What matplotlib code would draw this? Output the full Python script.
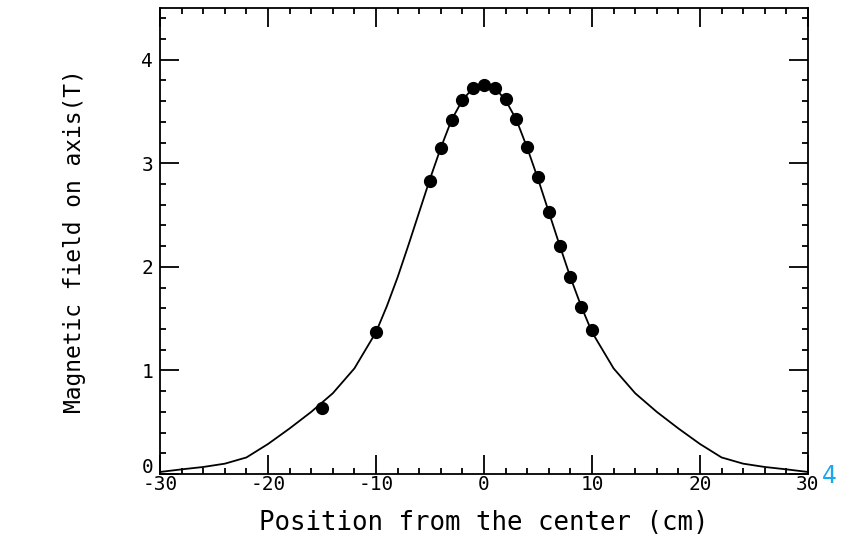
import matplotlib
matplotlib.use("Agg")
import matplotlib.pyplot as plt
import matplotlib.transforms as mtransforms
from matplotlib.ticker import MultipleLocator

plt.rcParams["axes.unicode_minus"] = False

# measured points (cm, T)
pos_pts = [-15, -10, -5, -4, -3, -2, -1, 0, 1, 2, 3, 4, 5, 6, 7, 8, 9, 10]
field_pts = [0.64, 1.37, 2.83, 3.15, 3.42, 3.61, 3.73, 3.76, 3.73, 3.62, 3.43,
             3.16, 2.87, 2.53, 2.20, 1.90, 1.61, 1.39]

# calculated curve
pos_curve = [-30, -28, -26, -24, -22, -20, -18, -16, -14, -12, -10, -9, -8, -7, -6,
             -5, -4, -3, -2, -1, 0, 1, 2, 3, 4, 5, 6, 7, 8, 9, 10, 12, 14, 16,
             18, 20, 22, 24, 26, 28, 30]
field_curve = [0.02, 0.045, 0.068, 0.10, 0.16, 0.29, 0.44, 0.60, 0.78, 1.02, 1.37,
               1.62, 1.90, 2.21, 2.53, 2.85, 3.15, 3.42, 3.61, 3.73, 3.77, 3.73,
               3.61, 3.42, 3.15, 2.85, 2.53, 2.21, 1.90, 1.62, 1.37, 1.02, 0.78,
               0.60, 0.44, 0.29, 0.16, 0.10, 0.068, 0.045, 0.02]

mono = ["DejaVu Sans Mono"]

fig = plt.figure(figsize=(8.54, 5.41), dpi=100)
ax = fig.add_axes([0.1874, 0.1238, 0.7587, 0.8614])

ax.plot(pos_curve, field_curve, color="black", lw=1.3)
ax.plot(pos_pts, field_pts, "o", color="black", ms=8.5)

ax.set_xlim(-30, 30)
ax.set_ylim(0, 4.5)
ax.xaxis.set_major_locator(MultipleLocator(10))
ax.xaxis.set_minor_locator(MultipleLocator(2))
ax.yaxis.set_major_locator(MultipleLocator(1))
ax.yaxis.set_minor_locator(MultipleLocator(0.2))
ax.tick_params(which="both", direction="in", top=True, right=True, width=1.3)
ax.tick_params(which="major", length=14, labelsize=14)
ax.tick_params(which="minor", length=4.5)
ax.tick_params(axis="x", pad=1)
ax.tick_params(axis="y", pad=5)
for lab in ax.get_xticklabels() + ax.get_yticklabels():
    lab.set_family(mono)
for sp in ax.spines.values():
    sp.set_linewidth(1.3)

# lift the "0" on the y axis clear of the "-30"
fig.canvas.draw()
up = mtransforms.ScaledTranslation(0, 6 / 72, fig.dpi_scale_trans)
for lab in ax.get_yticklabels():
    if lab.get_text() == "0":
        lab.set_transform(lab.get_transform() + up)

ax.set_xlabel("Position from the center (cm)", family=mono, fontsize=18.5, labelpad=11)
ax.set_ylabel("Magnetic field on axis(T)", family=mono, fontsize=16.5, labelpad=40)

# page number
fig.text(0.962, 0.12, "4", color="#1aa7ec", fontsize=17, ha="left", va="center")

fig.savefig("out.png", dpi=100)
